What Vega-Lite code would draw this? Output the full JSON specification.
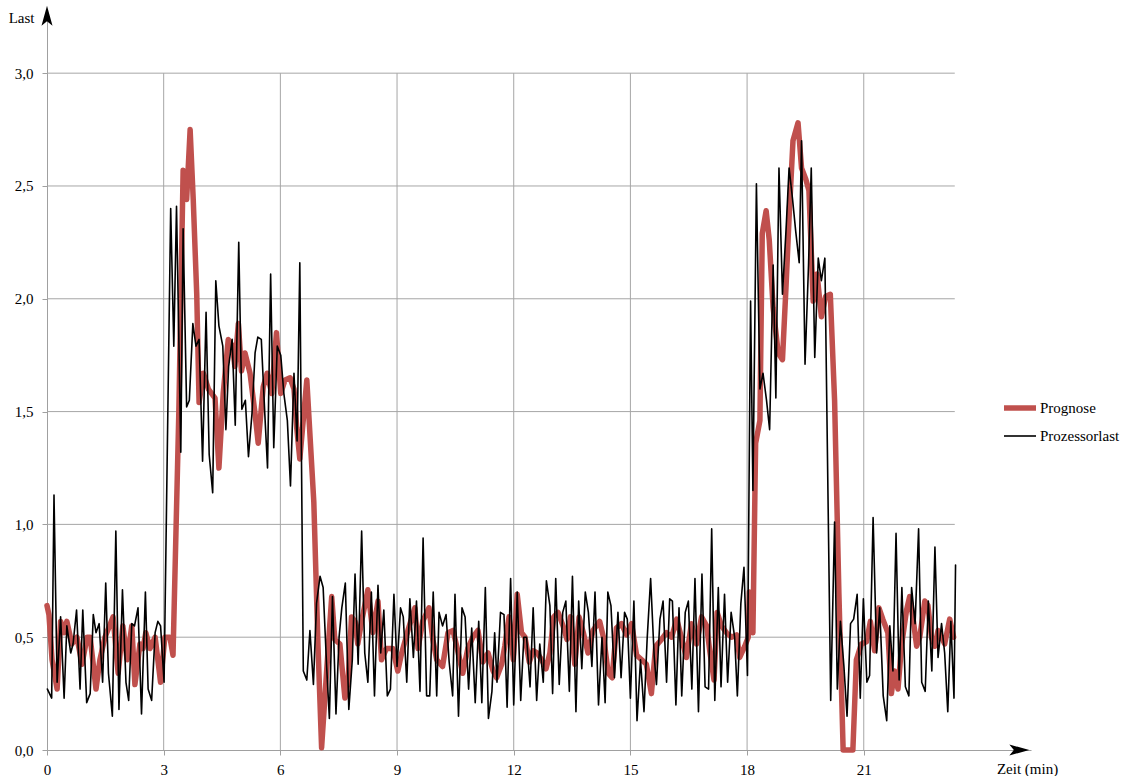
{
"$schema":"https://vega.github.io/schema/vega-lite/v6.json",
"width":984,"height":740,"autosize":"none",
"padding":{"left":47,"top":10,"right":97,"bottom":26},
"background":"white",
"config":{"view":{"stroke":null},"font":"Liberation Serif, Times New Roman, Times, serif","legend":{"labelFont":"Liberation Serif, Times New Roman, Times, serif"},"axis":{"labelFont":"Liberation Serif, Times New Roman, Times, serif","titleFont":"Liberation Serif, Times New Roman, Times, serif"}},
"datasets":{
"hgrid":[{"v":0.5},{"v":1.0},{"v":1.5},{"v":2.0},{"v":2.5},{"v":3.0}],
"vgrid":[{"t":3},{"t":6},{"t":9},{"t":12},{"t":15},{"t":18},{"t":21}],
"series":[
{"s":"Prognose","t":0.00,"v":0.64},{"s":"Prognose","t":0.05,"v":0.60},{"s":"Prognose","t":0.13,"v":0.40},{"s":"Prognose","t":0.26,"v":0.27},{"s":"Prognose","t":0.35,"v":0.57},{"s":"Prognose","t":0.44,"v":0.52},{"s":"Prognose","t":0.51,"v":0.57},{"s":"Prognose","t":0.64,"v":0.47},{"s":"Prognose","t":0.77,"v":0.50},{"s":"Prognose","t":0.90,"v":0.38},{"s":"Prognose","t":1.03,"v":0.50},{"s":"Prognose","t":1.11,"v":0.50},{"s":"Prognose","t":1.26,"v":0.27},{"s":"Prognose","t":1.36,"v":0.40},{"s":"Prognose","t":1.49,"v":0.50},{"s":"Prognose","t":1.70,"v":0.59},{"s":"Prognose","t":1.83,"v":0.34},{"s":"Prognose","t":1.95,"v":0.55},{"s":"Prognose","t":2.06,"v":0.40},{"s":"Prognose","t":2.18,"v":0.55},{"s":"Prognose","t":2.26,"v":0.29},{"s":"Prognose","t":2.39,"v":0.47},{"s":"Prognose","t":2.47,"v":0.45},{"s":"Prognose","t":2.54,"v":0.52},{"s":"Prognose","t":2.65,"v":0.45},{"s":"Prognose","t":2.78,"v":0.50},{"s":"Prognose","t":2.92,"v":0.30},{"s":"Prognose","t":3.03,"v":0.50},{"s":"Prognose","t":3.16,"v":0.50},{"s":"Prognose","t":3.24,"v":0.42},{"s":"Prognose","t":3.39,"v":1.50},{"s":"Prognose","t":3.50,"v":2.57},{"s":"Prognose","t":3.59,"v":2.44},{"s":"Prognose","t":3.68,"v":2.75},{"s":"Prognose","t":3.76,"v":2.44},{"s":"Prognose","t":3.85,"v":2.02},{"s":"Prognose","t":3.91,"v":1.54},{"s":"Prognose","t":4.02,"v":1.67},{"s":"Prognose","t":4.15,"v":1.60},{"s":"Prognose","t":4.32,"v":1.56},{"s":"Prognose","t":4.42,"v":1.25},{"s":"Prognose","t":4.53,"v":1.58},{"s":"Prognose","t":4.66,"v":1.82},{"s":"Prognose","t":4.77,"v":1.79},{"s":"Prognose","t":4.83,"v":1.70},{"s":"Prognose","t":4.92,"v":1.89},{"s":"Prognose","t":5.00,"v":1.68},{"s":"Prognose","t":5.09,"v":1.76},{"s":"Prognose","t":5.22,"v":1.67},{"s":"Prognose","t":5.35,"v":1.49},{"s":"Prognose","t":5.43,"v":1.36},{"s":"Prognose","t":5.56,"v":1.61},{"s":"Prognose","t":5.66,"v":1.67},{"s":"Prognose","t":5.78,"v":1.58},{"s":"Prognose","t":5.90,"v":1.85},{"s":"Prognose","t":6.01,"v":1.58},{"s":"Prognose","t":6.12,"v":1.64},{"s":"Prognose","t":6.25,"v":1.65},{"s":"Prognose","t":6.35,"v":1.60},{"s":"Prognose","t":6.42,"v":1.43},{"s":"Prognose","t":6.50,"v":1.29},{"s":"Prognose","t":6.68,"v":1.64},{"s":"Prognose","t":6.86,"v":1.10},{"s":"Prognose","t":6.97,"v":0.45},{"s":"Prognose","t":7.06,"v":0.01},{"s":"Prognose","t":7.19,"v":0.35},{"s":"Prognose","t":7.32,"v":0.68},{"s":"Prognose","t":7.40,"v":0.49},{"s":"Prognose","t":7.53,"v":0.47},{"s":"Prognose","t":7.66,"v":0.23},{"s":"Prognose","t":7.74,"v":0.30},{"s":"Prognose","t":7.83,"v":0.59},{"s":"Prognose","t":7.92,"v":0.57},{"s":"Prognose","t":7.99,"v":0.47},{"s":"Prognose","t":8.09,"v":0.57},{"s":"Prognose","t":8.25,"v":0.71},{"s":"Prognose","t":8.38,"v":0.52},{"s":"Prognose","t":8.51,"v":0.66},{"s":"Prognose","t":8.60,"v":0.40},{"s":"Prognose","t":8.73,"v":0.45},{"s":"Prognose","t":8.89,"v":0.45},{"s":"Prognose","t":9.02,"v":0.35},{"s":"Prognose","t":9.12,"v":0.43},{"s":"Prognose","t":9.28,"v":0.53},{"s":"Prognose","t":9.46,"v":0.63},{"s":"Prognose","t":9.54,"v":0.45},{"s":"Prognose","t":9.66,"v":0.57},{"s":"Prognose","t":9.82,"v":0.63},{"s":"Prognose","t":9.92,"v":0.49},{"s":"Prognose","t":10.02,"v":0.40},{"s":"Prognose","t":10.17,"v":0.37},{"s":"Prognose","t":10.31,"v":0.52},{"s":"Prognose","t":10.44,"v":0.53},{"s":"Prognose","t":10.56,"v":0.44},{"s":"Prognose","t":10.69,"v":0.34},{"s":"Prognose","t":10.82,"v":0.45},{"s":"Prognose","t":10.95,"v":0.50},{"s":"Prognose","t":11.08,"v":0.53},{"s":"Prognose","t":11.21,"v":0.39},{"s":"Prognose","t":11.34,"v":0.43},{"s":"Prognose","t":11.47,"v":0.35},{"s":"Prognose","t":11.56,"v":0.32},{"s":"Prognose","t":11.69,"v":0.38},{"s":"Prognose","t":11.77,"v":0.46},{"s":"Prognose","t":11.88,"v":0.59},{"s":"Prognose","t":11.99,"v":0.40},{"s":"Prognose","t":12.09,"v":0.69},{"s":"Prognose","t":12.20,"v":0.52},{"s":"Prognose","t":12.29,"v":0.50},{"s":"Prognose","t":12.40,"v":0.39},{"s":"Prognose","t":12.50,"v":0.44},{"s":"Prognose","t":12.60,"v":0.43},{"s":"Prognose","t":12.72,"v":0.40},{"s":"Prognose","t":12.83,"v":0.36},{"s":"Prognose","t":12.93,"v":0.43},{"s":"Prognose","t":13.03,"v":0.59},{"s":"Prognose","t":13.14,"v":0.61},{"s":"Prognose","t":13.27,"v":0.55},{"s":"Prognose","t":13.37,"v":0.49},{"s":"Prognose","t":13.46,"v":0.59},{"s":"Prognose","t":13.57,"v":0.38},{"s":"Prognose","t":13.68,"v":0.59},{"s":"Prognose","t":13.79,"v":0.52},{"s":"Prognose","t":13.91,"v":0.43},{"s":"Prognose","t":14.04,"v":0.53},{"s":"Prognose","t":14.21,"v":0.57},{"s":"Prognose","t":14.32,"v":0.49},{"s":"Prognose","t":14.43,"v":0.34},{"s":"Prognose","t":14.53,"v":0.32},{"s":"Prognose","t":14.64,"v":0.54},{"s":"Prognose","t":14.77,"v":0.56},{"s":"Prognose","t":14.90,"v":0.51},{"s":"Prognose","t":15.03,"v":0.56},{"s":"Prognose","t":15.16,"v":0.42},{"s":"Prognose","t":15.29,"v":0.40},{"s":"Prognose","t":15.41,"v":0.38},{"s":"Prognose","t":15.54,"v":0.25},{"s":"Prognose","t":15.65,"v":0.46},{"s":"Prognose","t":15.80,"v":0.49},{"s":"Prognose","t":15.93,"v":0.52},{"s":"Prognose","t":16.06,"v":0.50},{"s":"Prognose","t":16.19,"v":0.58},{"s":"Prognose","t":16.31,"v":0.50},{"s":"Prognose","t":16.44,"v":0.41},{"s":"Prognose","t":16.57,"v":0.56},{"s":"Prognose","t":16.70,"v":0.47},{"s":"Prognose","t":16.83,"v":0.59},{"s":"Prognose","t":16.96,"v":0.55},{"s":"Prognose","t":17.04,"v":0.44},{"s":"Prognose","t":17.15,"v":0.31},{"s":"Prognose","t":17.23,"v":0.61},{"s":"Prognose","t":17.34,"v":0.55},{"s":"Prognose","t":17.47,"v":0.52},{"s":"Prognose","t":17.60,"v":0.50},{"s":"Prognose","t":17.73,"v":0.51},{"s":"Prognose","t":17.81,"v":0.41},{"s":"Prognose","t":17.94,"v":0.46},{"s":"Prognose","t":18.03,"v":0.50},{"s":"Prognose","t":18.06,"v":0.70},{"s":"Prognose","t":18.15,"v":0.52},{"s":"Prognose","t":18.22,"v":1.36},{"s":"Prognose","t":18.33,"v":1.46},{"s":"Prognose","t":18.39,"v":2.29},{"s":"Prognose","t":18.49,"v":2.39},{"s":"Prognose","t":18.57,"v":2.26},{"s":"Prognose","t":18.67,"v":1.96},{"s":"Prognose","t":18.80,"v":1.76},{"s":"Prognose","t":18.91,"v":1.73},{"s":"Prognose","t":19.00,"v":2.05},{"s":"Prognose","t":19.08,"v":2.36},{"s":"Prognose","t":19.18,"v":2.70},{"s":"Prognose","t":19.31,"v":2.78},{"s":"Prognose","t":19.40,"v":2.58},{"s":"Prognose","t":19.51,"v":2.53},{"s":"Prognose","t":19.59,"v":2.48},{"s":"Prognose","t":19.70,"v":1.99},{"s":"Prognose","t":19.80,"v":2.11},{"s":"Prognose","t":19.91,"v":1.92},{"s":"Prognose","t":20.02,"v":2.01},{"s":"Prognose","t":20.14,"v":2.02},{"s":"Prognose","t":20.25,"v":1.55},{"s":"Prognose","t":20.36,"v":0.70},{"s":"Prognose","t":20.47,"v":0.00},{"s":"Prognose","t":20.59,"v":0.00},{"s":"Prognose","t":20.72,"v":0.00},{"s":"Prognose","t":20.81,"v":0.40},{"s":"Prognose","t":20.94,"v":0.47},{"s":"Prognose","t":21.07,"v":0.48},{"s":"Prognose","t":21.17,"v":0.57},{"s":"Prognose","t":21.28,"v":0.44},{"s":"Prognose","t":21.39,"v":0.63},{"s":"Prognose","t":21.49,"v":0.58},{"s":"Prognose","t":21.62,"v":0.52},{"s":"Prognose","t":21.71,"v":0.25},{"s":"Prognose","t":21.79,"v":0.35},{"s":"Prognose","t":21.88,"v":0.27},{"s":"Prognose","t":21.97,"v":0.46},{"s":"Prognose","t":22.10,"v":0.62},{"s":"Prognose","t":22.18,"v":0.68},{"s":"Prognose","t":22.27,"v":0.58},{"s":"Prognose","t":22.36,"v":0.46},{"s":"Prognose","t":22.44,"v":0.50},{"s":"Prognose","t":22.57,"v":0.66},{"s":"Prognose","t":22.65,"v":0.64},{"s":"Prognose","t":22.74,"v":0.50},{"s":"Prognose","t":22.83,"v":0.46},{"s":"Prognose","t":22.91,"v":0.53},{"s":"Prognose","t":23.00,"v":0.50},{"s":"Prognose","t":23.08,"v":0.47},{"s":"Prognose","t":23.21,"v":0.58},{"s":"Prognose","t":23.31,"v":0.50},
{"s":"Prozessorlast","t":0.01,"v":0.27},{"s":"Prozessorlast","t":0.12,"v":0.23},{"s":"Prozessorlast","t":0.18,"v":1.13},{"s":"Prozessorlast","t":0.26,"v":0.30},{"s":"Prozessorlast","t":0.35,"v":0.59},{"s":"Prozessorlast","t":0.44,"v":0.23},{"s":"Prozessorlast","t":0.51,"v":0.55},{"s":"Prozessorlast","t":0.61,"v":0.43},{"s":"Prozessorlast","t":0.67,"v":0.47},{"s":"Prozessorlast","t":0.76,"v":0.62},{"s":"Prozessorlast","t":0.85,"v":0.27},{"s":"Prozessorlast","t":0.92,"v":0.62},{"s":"Prozessorlast","t":1.02,"v":0.21},{"s":"Prozessorlast","t":1.11,"v":0.25},{"s":"Prozessorlast","t":1.19,"v":0.60},{"s":"Prozessorlast","t":1.26,"v":0.52},{"s":"Prozessorlast","t":1.34,"v":0.56},{"s":"Prozessorlast","t":1.43,"v":0.30},{"s":"Prozessorlast","t":1.51,"v":0.74},{"s":"Prozessorlast","t":1.58,"v":0.34},{"s":"Prozessorlast","t":1.68,"v":0.15},{"s":"Prozessorlast","t":1.77,"v":0.97},{"s":"Prozessorlast","t":1.85,"v":0.18},{"s":"Prozessorlast","t":1.94,"v":0.71},{"s":"Prozessorlast","t":2.03,"v":0.30},{"s":"Prozessorlast","t":2.10,"v":0.22},{"s":"Prozessorlast","t":2.18,"v":0.56},{"s":"Prozessorlast","t":2.25,"v":0.55},{"s":"Prozessorlast","t":2.34,"v":0.63},{"s":"Prozessorlast","t":2.43,"v":0.16},{"s":"Prozessorlast","t":2.53,"v":0.70},{"s":"Prozessorlast","t":2.60,"v":0.27},{"s":"Prozessorlast","t":2.69,"v":0.22},{"s":"Prozessorlast","t":2.78,"v":0.52},{"s":"Prozessorlast","t":2.85,"v":0.57},{"s":"Prozessorlast","t":2.92,"v":0.55},{"s":"Prozessorlast","t":3.01,"v":0.30},{"s":"Prozessorlast","t":3.18,"v":2.40},{"s":"Prozessorlast","t":3.26,"v":1.79},{"s":"Prozessorlast","t":3.33,"v":2.41},{"s":"Prozessorlast","t":3.44,"v":1.32},{"s":"Prozessorlast","t":3.50,"v":2.31},{"s":"Prozessorlast","t":3.59,"v":1.52},{"s":"Prozessorlast","t":3.66,"v":1.55},{"s":"Prozessorlast","t":3.75,"v":1.89},{"s":"Prozessorlast","t":3.83,"v":1.79},{"s":"Prozessorlast","t":3.91,"v":1.82},{"s":"Prozessorlast","t":4.00,"v":1.28},{"s":"Prozessorlast","t":4.09,"v":1.94},{"s":"Prozessorlast","t":4.17,"v":1.31},{"s":"Prozessorlast","t":4.26,"v":1.14},{"s":"Prozessorlast","t":4.34,"v":2.08},{"s":"Prozessorlast","t":4.42,"v":1.88},{"s":"Prozessorlast","t":4.52,"v":1.79},{"s":"Prozessorlast","t":4.60,"v":1.42},{"s":"Prozessorlast","t":4.67,"v":1.70},{"s":"Prozessorlast","t":4.76,"v":1.82},{"s":"Prozessorlast","t":4.84,"v":1.44},{"s":"Prozessorlast","t":4.93,"v":2.25},{"s":"Prozessorlast","t":5.01,"v":1.51},{"s":"Prozessorlast","t":5.10,"v":1.55},{"s":"Prozessorlast","t":5.18,"v":1.30},{"s":"Prozessorlast","t":5.27,"v":1.49},{"s":"Prozessorlast","t":5.35,"v":1.76},{"s":"Prozessorlast","t":5.42,"v":1.83},{"s":"Prozessorlast","t":5.51,"v":1.82},{"s":"Prozessorlast","t":5.60,"v":1.49},{"s":"Prozessorlast","t":5.67,"v":1.25},{"s":"Prozessorlast","t":5.75,"v":2.11},{"s":"Prozessorlast","t":5.83,"v":1.34},{"s":"Prozessorlast","t":5.92,"v":1.79},{"s":"Prozessorlast","t":6.01,"v":1.75},{"s":"Prozessorlast","t":6.09,"v":1.58},{"s":"Prozessorlast","t":6.18,"v":1.46},{"s":"Prozessorlast","t":6.26,"v":1.17},{"s":"Prozessorlast","t":6.35,"v":1.67},{"s":"Prozessorlast","t":6.43,"v":1.37},{"s":"Prozessorlast","t":6.50,"v":2.16},{"s":"Prozessorlast","t":6.59,"v":0.35},{"s":"Prozessorlast","t":6.68,"v":0.31},{"s":"Prozessorlast","t":6.76,"v":0.53},{"s":"Prozessorlast","t":6.85,"v":0.29},{"s":"Prozessorlast","t":6.93,"v":0.65},{"s":"Prozessorlast","t":7.02,"v":0.77},{"s":"Prozessorlast","t":7.10,"v":0.72},{"s":"Prozessorlast","t":7.19,"v":0.37},{"s":"Prozessorlast","t":7.26,"v":0.14},{"s":"Prozessorlast","t":7.34,"v":0.68},{"s":"Prozessorlast","t":7.43,"v":0.16},{"s":"Prozessorlast","t":7.51,"v":0.50},{"s":"Prozessorlast","t":7.58,"v":0.63},{"s":"Prozessorlast","t":7.67,"v":0.74},{"s":"Prozessorlast","t":7.76,"v":0.18},{"s":"Prozessorlast","t":7.85,"v":0.40},{"s":"Prozessorlast","t":7.92,"v":0.78},{"s":"Prozessorlast","t":8.00,"v":0.38},{"s":"Prozessorlast","t":8.09,"v":0.97},{"s":"Prozessorlast","t":8.17,"v":0.43},{"s":"Prozessorlast","t":8.25,"v":0.30},{"s":"Prozessorlast","t":8.34,"v":0.70},{"s":"Prozessorlast","t":8.42,"v":0.24},{"s":"Prozessorlast","t":8.51,"v":0.73},{"s":"Prozessorlast","t":8.58,"v":0.43},{"s":"Prozessorlast","t":8.66,"v":0.62},{"s":"Prozessorlast","t":8.75,"v":0.24},{"s":"Prozessorlast","t":8.83,"v":0.27},{"s":"Prozessorlast","t":8.92,"v":0.69},{"s":"Prozessorlast","t":9.00,"v":0.37},{"s":"Prozessorlast","t":9.09,"v":0.63},{"s":"Prozessorlast","t":9.16,"v":0.59},{"s":"Prozessorlast","t":9.25,"v":0.30},{"s":"Prozessorlast","t":9.33,"v":0.67},{"s":"Prozessorlast","t":9.42,"v":0.41},{"s":"Prozessorlast","t":9.50,"v":0.66},{"s":"Prozessorlast","t":9.59,"v":0.26},{"s":"Prozessorlast","t":9.67,"v":0.94},{"s":"Prozessorlast","t":9.76,"v":0.24},{"s":"Prozessorlast","t":9.84,"v":0.24},{"s":"Prozessorlast","t":9.93,"v":0.70},{"s":"Prozessorlast","t":10.02,"v":0.24},{"s":"Prozessorlast","t":10.08,"v":0.61},{"s":"Prozessorlast","t":10.17,"v":0.55},{"s":"Prozessorlast","t":10.26,"v":0.60},{"s":"Prozessorlast","t":10.34,"v":0.39},{"s":"Prozessorlast","t":10.43,"v":0.24},{"s":"Prozessorlast","t":10.49,"v":0.69},{"s":"Prozessorlast","t":10.58,"v":0.15},{"s":"Prozessorlast","t":10.67,"v":0.63},{"s":"Prozessorlast","t":10.75,"v":0.59},{"s":"Prozessorlast","t":10.84,"v":0.27},{"s":"Prozessorlast","t":10.92,"v":0.54},{"s":"Prozessorlast","t":11.01,"v":0.21},{"s":"Prozessorlast","t":11.10,"v":0.57},{"s":"Prozessorlast","t":11.18,"v":0.21},{"s":"Prozessorlast","t":11.27,"v":0.72},{"s":"Prozessorlast","t":11.35,"v":0.14},{"s":"Prozessorlast","t":11.44,"v":0.26},{"s":"Prozessorlast","t":11.51,"v":0.52},{"s":"Prozessorlast","t":11.57,"v":0.30},{"s":"Prozessorlast","t":11.66,"v":0.61},{"s":"Prozessorlast","t":11.75,"v":0.60},{"s":"Prozessorlast","t":11.83,"v":0.19},{"s":"Prozessorlast","t":11.92,"v":0.76},{"s":"Prozessorlast","t":12.00,"v":0.20},{"s":"Prozessorlast","t":12.09,"v":0.70},{"s":"Prozessorlast","t":12.18,"v":0.22},{"s":"Prozessorlast","t":12.26,"v":0.50},{"s":"Prozessorlast","t":12.33,"v":0.50},{"s":"Prozessorlast","t":12.42,"v":0.28},{"s":"Prozessorlast","t":12.50,"v":0.63},{"s":"Prozessorlast","t":12.59,"v":0.22},{"s":"Prozessorlast","t":12.67,"v":0.47},{"s":"Prozessorlast","t":12.76,"v":0.30},{"s":"Prozessorlast","t":12.84,"v":0.75},{"s":"Prozessorlast","t":12.93,"v":0.64},{"s":"Prozessorlast","t":13.00,"v":0.25},{"s":"Prozessorlast","t":13.08,"v":0.76},{"s":"Prozessorlast","t":13.17,"v":0.29},{"s":"Prozessorlast","t":13.26,"v":0.61},{"s":"Prozessorlast","t":13.34,"v":0.66},{"s":"Prozessorlast","t":13.43,"v":0.26},{"s":"Prozessorlast","t":13.51,"v":0.77},{"s":"Prozessorlast","t":13.60,"v":0.17},{"s":"Prozessorlast","t":13.67,"v":0.66},{"s":"Prozessorlast","t":13.75,"v":0.36},{"s":"Prozessorlast","t":13.84,"v":0.70},{"s":"Prozessorlast","t":13.92,"v":0.61},{"s":"Prozessorlast","t":14.01,"v":0.37},{"s":"Prozessorlast","t":14.09,"v":0.70},{"s":"Prozessorlast","t":14.18,"v":0.20},{"s":"Prozessorlast","t":14.27,"v":0.50},{"s":"Prozessorlast","t":14.35,"v":0.21},{"s":"Prozessorlast","t":14.42,"v":0.70},{"s":"Prozessorlast","t":14.50,"v":0.64},{"s":"Prozessorlast","t":14.59,"v":0.32},{"s":"Prozessorlast","t":14.68,"v":0.61},{"s":"Prozessorlast","t":14.76,"v":0.32},{"s":"Prozessorlast","t":14.85,"v":0.61},{"s":"Prozessorlast","t":14.92,"v":0.58},{"s":"Prozessorlast","t":15.00,"v":0.23},{"s":"Prozessorlast","t":15.09,"v":0.66},{"s":"Prozessorlast","t":15.17,"v":0.13},{"s":"Prozessorlast","t":15.26,"v":0.40},{"s":"Prozessorlast","t":15.35,"v":0.17},{"s":"Prozessorlast","t":15.43,"v":0.49},{"s":"Prozessorlast","t":15.52,"v":0.76},{"s":"Prozessorlast","t":15.61,"v":0.42},{"s":"Prozessorlast","t":15.67,"v":0.29},{"s":"Prozessorlast","t":15.76,"v":0.58},{"s":"Prozessorlast","t":15.84,"v":0.66},{"s":"Prozessorlast","t":15.93,"v":0.30},{"s":"Prozessorlast","t":16.01,"v":0.67},{"s":"Prozessorlast","t":16.08,"v":0.66},{"s":"Prozessorlast","t":16.17,"v":0.20},{"s":"Prozessorlast","t":16.25,"v":0.63},{"s":"Prozessorlast","t":16.32,"v":0.24},{"s":"Prozessorlast","t":16.41,"v":0.61},{"s":"Prozessorlast","t":16.49,"v":0.66},{"s":"Prozessorlast","t":16.58,"v":0.27},{"s":"Prozessorlast","t":16.66,"v":0.76},{"s":"Prozessorlast","t":16.75,"v":0.17},{"s":"Prozessorlast","t":16.84,"v":0.78},{"s":"Prozessorlast","t":16.92,"v":0.28},{"s":"Prozessorlast","t":17.01,"v":0.27},{"s":"Prozessorlast","t":17.09,"v":0.98},{"s":"Prozessorlast","t":17.17,"v":0.22},{"s":"Prozessorlast","t":17.26,"v":0.72},{"s":"Prozessorlast","t":17.33,"v":0.28},{"s":"Prozessorlast","t":17.42,"v":0.69},{"s":"Prozessorlast","t":17.50,"v":0.30},{"s":"Prozessorlast","t":17.59,"v":0.61},{"s":"Prozessorlast","t":17.68,"v":0.50},{"s":"Prozessorlast","t":17.75,"v":0.24},{"s":"Prozessorlast","t":17.84,"v":0.65},{"s":"Prozessorlast","t":17.92,"v":0.81},{"s":"Prozessorlast","t":18.01,"v":0.33},{"s":"Prozessorlast","t":18.09,"v":1.99},{"s":"Prozessorlast","t":18.15,"v":1.15},{"s":"Prozessorlast","t":18.24,"v":2.51},{"s":"Prozessorlast","t":18.33,"v":1.60},{"s":"Prozessorlast","t":18.41,"v":1.67},{"s":"Prozessorlast","t":18.50,"v":1.55},{"s":"Prozessorlast","t":18.58,"v":1.42},{"s":"Prozessorlast","t":18.67,"v":2.15},{"s":"Prozessorlast","t":18.74,"v":1.56},{"s":"Prozessorlast","t":18.82,"v":2.58},{"s":"Prozessorlast","t":18.91,"v":2.02},{"s":"Prozessorlast","t":19.00,"v":2.30},{"s":"Prozessorlast","t":19.08,"v":2.58},{"s":"Prozessorlast","t":19.17,"v":2.44},{"s":"Prozessorlast","t":19.25,"v":2.30},{"s":"Prozessorlast","t":19.34,"v":2.16},{"s":"Prozessorlast","t":19.40,"v":2.70},{"s":"Prozessorlast","t":19.49,"v":1.71},{"s":"Prozessorlast","t":19.58,"v":2.15},{"s":"Prozessorlast","t":19.65,"v":2.58},{"s":"Prozessorlast","t":19.74,"v":1.74},{"s":"Prozessorlast","t":19.83,"v":2.18},{"s":"Prozessorlast","t":19.91,"v":2.08},{"s":"Prozessorlast","t":20.00,"v":2.18},{"s":"Prozessorlast","t":20.15,"v":0.22},{"s":"Prozessorlast","t":20.25,"v":1.01},{"s":"Prozessorlast","t":20.32,"v":0.27},{"s":"Prozessorlast","t":20.40,"v":0.57},{"s":"Prozessorlast","t":20.49,"v":0.37},{"s":"Prozessorlast","t":20.57,"v":0.15},{"s":"Prozessorlast","t":20.66,"v":0.56},{"s":"Prozessorlast","t":20.74,"v":0.58},{"s":"Prozessorlast","t":20.83,"v":0.69},{"s":"Prozessorlast","t":20.91,"v":0.23},{"s":"Prozessorlast","t":20.99,"v":0.67},{"s":"Prozessorlast","t":21.08,"v":0.30},{"s":"Prozessorlast","t":21.15,"v":0.33},{"s":"Prozessorlast","t":21.24,"v":1.03},{"s":"Prozessorlast","t":21.33,"v":0.43},{"s":"Prozessorlast","t":21.41,"v":0.63},{"s":"Prozessorlast","t":21.50,"v":0.24},{"s":"Prozessorlast","t":21.59,"v":0.13},{"s":"Prozessorlast","t":21.67,"v":0.55},{"s":"Prozessorlast","t":21.75,"v":0.35},{"s":"Prozessorlast","t":21.83,"v":0.96},{"s":"Prozessorlast","t":21.91,"v":0.31},{"s":"Prozessorlast","t":21.98,"v":0.72},{"s":"Prozessorlast","t":22.07,"v":0.28},{"s":"Prozessorlast","t":22.16,"v":0.24},{"s":"Prozessorlast","t":22.23,"v":0.72},{"s":"Prozessorlast","t":22.32,"v":0.56},{"s":"Prozessorlast","t":22.41,"v":0.98},{"s":"Prozessorlast","t":22.49,"v":0.30},{"s":"Prozessorlast","t":22.58,"v":0.26},{"s":"Prozessorlast","t":22.66,"v":0.66},{"s":"Prozessorlast","t":22.75,"v":0.35},{"s":"Prozessorlast","t":22.83,"v":0.90},{"s":"Prozessorlast","t":22.91,"v":0.41},{"s":"Prozessorlast","t":23.00,"v":0.56},{"s":"Prozessorlast","t":23.08,"v":0.43},{"s":"Prozessorlast","t":23.16,"v":0.17},{"s":"Prozessorlast","t":23.24,"v":0.57},{"s":"Prozessorlast","t":23.32,"v":0.23},{"s":"Prozessorlast","t":23.36,"v":0.82}
]},
"layer":[
{"data":{"name":"hgrid"},
 "mark":{"type":"rule","color":"#a6a6a6","strokeWidth":1},
 "encoding":{
  "y":{"field":"v","type":"quantitative","scale":{"domain":[0,3.28],"nice":false,"zero":true},
   "axis":{"values":[0,0.5,1,1.5,2,2.5,3],"labelExpr":"replace(format(datum.value,'.1f'),'.',',')","grid":false,"domainColor":"#a0a0a0","tickColor":"#a0a0a0","tickSize":5,"labelPadding":9,"labelFontSize":15,"labelColor":"#000000",
    "title":"Last","titleAngle":0,"titleAlign":"right","titleBaseline":"alphabetic","titleX":-13,"titleY":12,"titleFontSize":15,"titleFontWeight":"normal","titleColor":"#000000"}},
  "x":{"datum":0,"type":"quantitative","scale":{"domain":[0,25.3],"nice":false},
   "axis":{"values":[0,3,6,9,12,15,18,21],"format":"d","grid":false,"domainColor":"#a0a0a0","tickColor":"#a0a0a0","tickSize":5,"labelPadding":7,"labelFontSize":15,"labelColor":"#000000","labelFlush":false,
    "title":"Zeit (min)","titleAlign":"center","titleBaseline":"alphabetic","titleX":980,"titleY":23,"titleFontSize":15,"titleFontWeight":"normal","titleColor":"#000000"}},
  "x2":{"datum":23.34}}},
{"data":{"name":"vgrid"},
 "mark":{"type":"rule","color":"#a6a6a6","strokeWidth":1},
 "encoding":{"x":{"field":"t","type":"quantitative","title":"Zeit (min)"},"y":{"datum":0,"type":"quantitative","title":"Last"},"y2":{"datum":3.0}}},
{"data":{"name":"series"},
 "transform":[{"filter":"datum.s === 'Prognose'"}],
 "mark":{"type":"line","strokeJoin":"round","strokeCap":"round"},
 "encoding":{
  "x":{"field":"t","type":"quantitative","title":"Zeit (min)"},
  "y":{"field":"v","type":"quantitative","title":"Last"},
  "color":{"field":"s","type":"nominal","scale":{"domain":["Prognose","Prozessorlast"],"range":["#c0504d","#000000"]},
   "legend":{"title":null,"orient":"none","legendX":954,"legendY":379,"symbolType":"stroke","symbolSize":1024,"labelFontSize":15,"labelColor":"#000000","labelOffset":1,"rowPadding":-5}},
  "strokeWidth":{"field":"s","type":"nominal","scale":{"domain":["Prognose","Prozessorlast"],"range":[5.5,1.6]},
   "legend":{"title":null,"orient":"none","legendX":954,"legendY":379,"symbolType":"stroke","symbolSize":1024,"labelFontSize":15,"labelColor":"#000000","labelOffset":1,"rowPadding":-5}}}},
{"data":{"name":"series"},
 "transform":[{"filter":"datum.s === 'Prozessorlast'"}],
 "mark":{"type":"line","strokeJoin":"round","strokeCap":"round"},
 "encoding":{
  "x":{"field":"t","type":"quantitative","title":"Zeit (min)"},
  "y":{"field":"v","type":"quantitative","title":"Last"},
  "color":{"field":"s","type":"nominal"},
  "strokeWidth":{"field":"s","type":"nominal"}}},
{"data":{"values":[{}]},
 "mark":{"type":"point","shape":"M1,0L-1,-0.55L-0.55,0L-1,0.55Z","filled":true,"color":"#000000","opacity":1,"size":400,"strokeWidth":0},
 "encoding":{"x":{"datum":25.0,"type":"quantitative","title":"Zeit (min)"},"y":{"datum":0,"type":"quantitative","title":"Last"}}},
{"data":{"values":[{}]},
 "mark":{"type":"point","shape":"M0,-1L-0.55,1L0,0.55L0.55,1Z","filled":true,"color":"#000000","opacity":1,"size":400,"strokeWidth":0},
 "encoding":{"x":{"datum":0,"type":"quantitative","title":"Zeit (min)"},"y":{"datum":3.255,"type":"quantitative","title":"Last"}}}
]
}
